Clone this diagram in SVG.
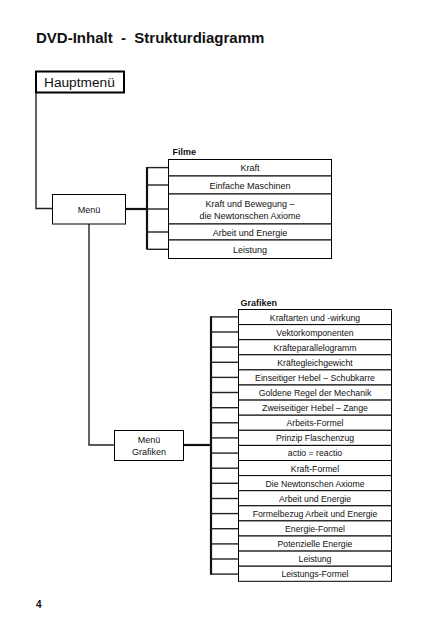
<svg xmlns="http://www.w3.org/2000/svg" width="427" height="640" viewBox="0 0 427 640">
<style>
text{font-family:"Liberation Sans",Arial,sans-serif;fill:#111}
.box{fill:#fff;stroke:#000;stroke-width:1}
.t{font-size:9px;text-anchor:middle}
.g{font-size:8.7px;text-anchor:middle}
.lbl{font-size:9px;font-weight:bold}
.c{fill:none;stroke:#222;stroke-width:1.4}
.th{fill:none;stroke:#111;stroke-width:2.2}
</style>
<rect width="427" height="640" fill="#fff"/>
<text x="36" y="43" font-size="15" font-weight="bold" xml:space="preserve">DVD-Inhalt  -  Strukturdiagramm</text>
<text x="36" y="608" font-size="10" font-weight="bold">4</text>

<g id="connectors">
<polyline class="c" points="36,93 36,208.5 52,208.5"/>
<polyline class="c" points="89,224 89,445 114,445"/>
<line class="th" x1="125.5" y1="209" x2="147" y2="209"/>
<line class="th" x1="147" y1="167" x2="147" y2="249.5"/>
<g class="c">
<line x1="147" y1="167.6" x2="168" y2="167.6"/>
<line x1="147" y1="185" x2="168" y2="185"/>
<line x1="147" y1="209" x2="168" y2="209"/>
<line x1="147" y1="232" x2="168" y2="232"/>
<line x1="147" y1="249.3" x2="168" y2="249.3"/>
</g>
<line class="th" x1="183" y1="445" x2="211" y2="445"/>
<line class="th" x1="211" y1="316.2" x2="211" y2="574.8"/>
<g class="c">
<line x1="211" y1="316.9" x2="238" y2="316.9"/>
<line x1="211" y1="332" x2="238" y2="332"/>
<line x1="211" y1="347.1" x2="238" y2="347.1"/>
<line x1="211" y1="362.3" x2="238" y2="362.3"/>
<line x1="211" y1="377.4" x2="238" y2="377.4"/>
<line x1="211" y1="392.5" x2="238" y2="392.5"/>
<line x1="211" y1="407.7" x2="238" y2="407.7"/>
<line x1="211" y1="422.8" x2="238" y2="422.8"/>
<line x1="211" y1="437.9" x2="238" y2="437.9"/>
<line x1="211" y1="453.1" x2="238" y2="453.1"/>
<line x1="211" y1="468.2" x2="238" y2="468.2"/>
<line x1="211" y1="483.3" x2="238" y2="483.3"/>
<line x1="211" y1="498.5" x2="238" y2="498.5"/>
<line x1="211" y1="513.6" x2="238" y2="513.6"/>
<line x1="211" y1="528.7" x2="238" y2="528.7"/>
<line x1="211" y1="543.9" x2="238" y2="543.9"/>
<line x1="211" y1="559" x2="238" y2="559"/>
<line x1="211" y1="574.1" x2="238" y2="574.1"/>
</g>
</g>

<g id="hauptmenue">
<rect x="36" y="71.5" width="88" height="21" fill="#fff" stroke="#000" stroke-width="2"/>
<text x="44" y="87" font-size="13.7">Hauptmenü</text>
</g>
<g id="menue">
<rect class="box" x="52.5" y="194.5" width="73" height="29.5"/>
<text class="t" x="89" y="212.5">Menü</text>
</g>
<g id="menue-grafiken">
<rect class="box" x="114.5" y="430.5" width="69" height="30"/>
<text class="t" x="149" y="443">Menü</text>
<text class="t" x="149" y="455">Grafiken</text>
</g>

<g id="filme">
<text class="lbl" x="172.5" y="155">Filme</text>
<g id="f1"><rect class="box" x="168.5" y="159.5" width="163" height="16.5"/><text class="t" x="250" y="171">Kraft</text></g>
<g id="f2"><rect class="box" x="168.5" y="176" width="163" height="18"/><text class="t" x="250" y="188.5">Einfache Maschinen</text></g>
<g id="f3"><rect class="box" x="168.5" y="194" width="163" height="30"/><text class="t" x="250" y="207">Kraft und Bewegung –</text><text class="t" x="250" y="218.5">die Newtonschen Axiome</text></g>
<g id="f4"><rect class="box" x="168.5" y="224" width="163" height="16"/><text class="t" x="250" y="235.5">Arbeit und Energie</text></g>
<g id="f5"><rect class="box" x="168.5" y="240" width="163" height="18.5"/><text class="t" x="250" y="252.5">Leistung</text></g>
</g>

<g id="grafiken">
<text class="lbl" x="240.5" y="305.5" font-size="8.6">Grafiken</text>
<g id="g1"><rect class="box" x="238.5" y="309.5" width="153" height="15.1"/><text class="g" x="315" y="320.5">Kraftarten und -wirkung</text></g>
<g id="g2"><rect class="box" x="238.5" y="324.6" width="153" height="15.1"/><text class="g" x="315" y="335.6">Vektorkomponenten</text></g>
<g id="g3"><rect class="box" x="238.5" y="339.7" width="153" height="15.1"/><text class="g" x="315" y="350.7">Kräfteparallelogramm</text></g>
<g id="g4"><rect class="box" x="238.5" y="354.8" width="153" height="15.1"/><text class="g" x="315" y="365.8">Kräftegleichgewicht</text></g>
<g id="g5"><rect class="box" x="238.5" y="369.9" width="153" height="15.1"/><text class="g" x="315" y="380.9">Einseitiger Hebel – Schubkarre</text></g>
<g id="g6"><rect class="box" x="238.5" y="385" width="153" height="15.1"/><text class="g" x="315" y="396">Goldene Regel der Mechanik</text></g>
<g id="g7"><rect class="box" x="238.5" y="400.1" width="153" height="15.1"/><text class="g" x="315" y="411.1">Zweiseitiger Hebel – Zange</text></g>
<g id="g8"><rect class="box" x="238.5" y="415.2" width="153" height="15.1"/><text class="g" x="315" y="426.2">Arbeits-Formel</text></g>
<g id="g9"><rect class="box" x="238.5" y="430.3" width="153" height="15.1"/><text class="g" x="315" y="441.3">Prinzip Flaschenzug</text></g>
<g id="g10"><rect class="box" x="238.5" y="445.4" width="153" height="15.1"/><text class="g" x="315" y="456.4">actio = reactio</text></g>
<g id="g11"><rect class="box" x="238.5" y="460.5" width="153" height="15.1"/><text class="g" x="315" y="471.5">Kraft-Formel</text></g>
<g id="g12"><rect class="box" x="238.5" y="475.6" width="153" height="15.1"/><text class="g" x="315" y="486.6">Die Newtonschen Axiome</text></g>
<g id="g13"><rect class="box" x="238.5" y="490.7" width="153" height="15.1"/><text class="g" x="315" y="501.7">Arbeit und Energie</text></g>
<g id="g14"><rect class="box" x="238.5" y="505.8" width="153" height="15.1"/><text class="g" x="315" y="516.8">Formelbezug Arbeit und Energie</text></g>
<g id="g15"><rect class="box" x="238.5" y="520.9" width="153" height="15.1"/><text class="g" x="315" y="531.9">Energie-Formel</text></g>
<g id="g16"><rect class="box" x="238.5" y="536" width="153" height="15.1"/><text class="g" x="315" y="547">Potenzielle Energie</text></g>
<g id="g17"><rect class="box" x="238.5" y="551.1" width="153" height="15.1"/><text class="g" x="315" y="562.1">Leistung</text></g>
<g id="g18"><rect class="box" x="238.5" y="566.2" width="153" height="15.1"/><text class="g" x="315" y="577.2">Leistungs-Formel</text></g>
</g>
</svg>
